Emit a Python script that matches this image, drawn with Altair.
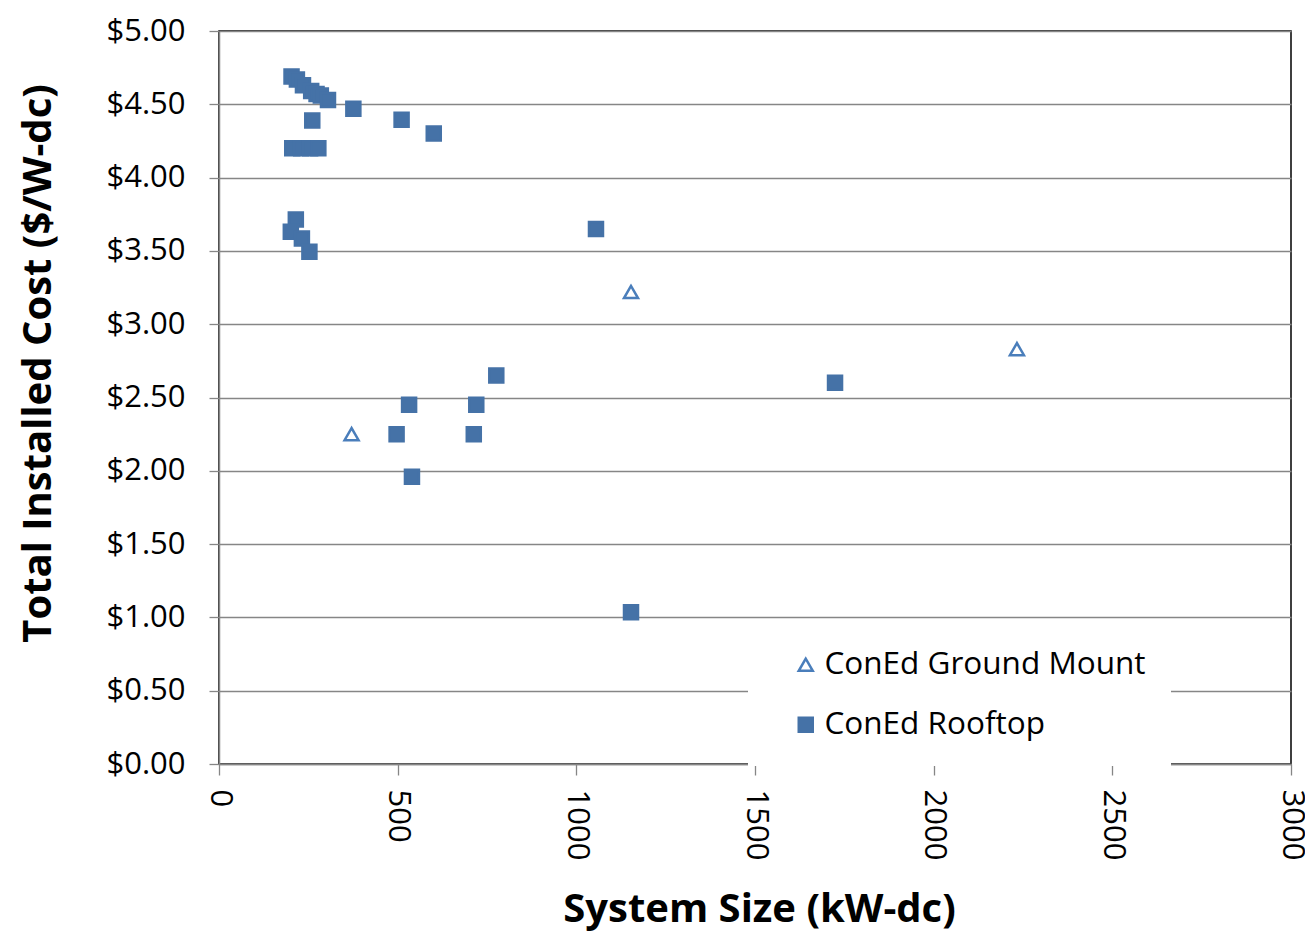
import altair as alt
import pandas as pd

# Rooftop systems (kW-dc, $/W-dc)
roof_size = [203, 218, 235, 258, 273, 285, 305,
             205, 230, 255, 278, 261,
             376, 511, 601,
             215, 201, 232, 253,
             1055, 776, 1724, 532, 497, 720, 713, 540, 1153]
roof_cost = [4.69, 4.67, 4.63, 4.59, 4.57, 4.56, 4.53,
             4.20, 4.20, 4.20, 4.20, 4.39,
             4.47, 4.395, 4.30,
             3.715, 3.63, 3.585, 3.495,
             3.65, 2.65, 2.60, 2.45, 2.25, 2.45, 2.25, 1.96, 1.035]

# Ground mount systems
ground_size = [1153, 2233, 371]
ground_cost = [3.22, 2.83, 2.25]

series = ["ConEd Ground Mount", "ConEd Rooftop"]
x_ticks = [0, 500, 1000, 1500, 2000, 2500, 3000]
y_ticks = [0, 0.5, 1, 1.5, 2, 2.5, 3, 3.5, 4, 4.5, 5]

df = pd.DataFrame({
    "size": ground_size + roof_size,
    "cost": ground_cost + roof_cost,
    "series": [series[0]] * len(ground_size) + [series[1]] * len(roof_size),
})

FONT = "Open Sans"
GRID = "#868686"

chart = alt.Chart(df).mark_point(size=196, strokeWidth=2.5, opacity=1).encode(
    x=alt.X("size:Q", title="System Size (kW-dc)",
            scale=alt.Scale(domain=[0, 3000], nice=False),
            axis=alt.Axis(values=x_ticks, format="d", grid=False, labelAngle=90,
                          labelAlign="left", labelBaseline="middle",
                          tickSize=11, labelPadding=14,
                          titleX=540, titleY=157, titleBaseline="alphabetic",
                          titleAnchor="middle")),
    y=alt.Y("cost:Q", title="Total Installed Cost ($/W-dc)",
            scale=alt.Scale(domain=[0, 5], nice=False),
            axis=alt.Axis(values=y_ticks, format="$.2f", grid=True, tickSize=10,
                          labelPadding=24, titleX=-181, titleY=332,
                          titleAngle=-90, titleBaseline="middle",
                          titleAlign="center")),
    shape=alt.Shape("series:N", scale=alt.Scale(domain=series, range=["triangle-up", "square"]),
                    legend=alt.Legend(title=None, orient="none", legendX=529, legendY=593,
                                      fillColor="white", padding=25, symbolOffset=17,
                                      labelOffset=3, rowPadding=27, labelLimit=600,
                                      symbolSize=196, symbolStrokeWidth=2.5)),
    fill=alt.Fill("series:N", scale=alt.Scale(domain=series, range=["white", "#4572A7"]), legend=None),
    stroke=alt.Stroke("series:N", scale=alt.Scale(domain=series, range=["#4A7EBB", "#4572A7"]), legend=None),
).properties(
    width=1072, height=733,
    autosize=alt.AutoSizeParams(type="none"),
    padding={"left": 211, "top": 23, "right": 14, "bottom": 171},
).configure_view(stroke="#000000", strokeWidth=1.5).configure_axis(
    labelFont=FONT, labelFontSize=31, labelColor="#000000",
    titleFont=FONT, titleFontSize=40, titleFontWeight="bold", titleColor="#000000",
    domainColor=GRID, domainWidth=1.5, tickColor=GRID, tickWidth=1.3,
    gridColor=GRID, gridWidth=1.3,
).configure_legend(
    labelFont=FONT, labelFontSize=31.5, labelColor="#000000",
)

chart.save("out.html", embed_options={"renderer": "svg", "actions": False})
